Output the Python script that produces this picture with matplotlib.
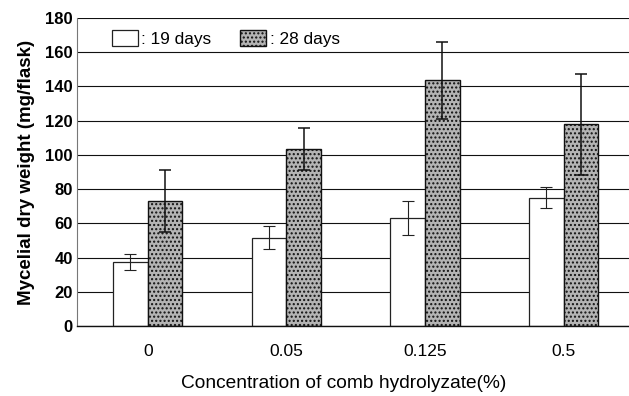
import numpy as np
import matplotlib
matplotlib.use("Agg")
import matplotlib.pyplot as plt

# data
concentrations = ["0", "0.05", "0.125", "0.5"]
days19_mean = [37.5, 51.5, 63.0, 75.0]
days19_err = [4.7, 6.8, 10.0, 6.0]
days28_mean = [73.0, 103.5, 143.5, 118.0]
days28_err = [18.0, 12.3, 22.7, 29.5]
series_labels = [": 19 days", ": 28 days"]

plt.rcParams['font.family'] = ['Liberation Sans', 'DejaVu Sans']
plt.rcParams['hatch.color'] = '#3a3a3a'
plt.rcParams['hatch.linewidth'] = 1.0

fig = plt.figure(figsize=(6.29, 3.96), dpi=100)
ax = fig.add_axes([0.1224, 0.1768, 0.8776, 0.7778])

x = np.arange(len(concentrations))
w = 0.25

b1 = ax.bar(x - w/2, days19_mean, w, color='white', edgecolor='#222222',
            linewidth=0.9, zorder=2, label=series_labels[0])
b2 = ax.bar(x + w/2, days28_mean, w, color='#b4b4b4', edgecolor='#111111',
            linewidth=1.0, hatch='....', zorder=2, label=series_labels[1])

ax.errorbar(x - w/2, days19_mean, yerr=days19_err, fmt='none', ecolor='#222222',
            elinewidth=0.8, capsize=4, capthick=0.8, zorder=3)
ax.errorbar(x + w/2, days28_mean, yerr=days28_err, fmt='none', ecolor='#111111',
            elinewidth=1.1, capsize=4, capthick=1.1, zorder=3)

ax.set_ylim(0, 180)
ax.set_xlim(-0.51, 3.47)
ax.set_yticks(np.arange(0, 181, 20))
ax.set_xticks(x)
ax.set_xticklabels(concentrations)
ax.tick_params(axis='y', labelsize=12, length=0, pad=3)
ax.tick_params(axis='x', labelsize=12.5, length=0, pad=13)
for lab in ax.get_yticklabels():
    lab.set_fontweight('bold')

ax.yaxis.grid(True, color='#111111', linewidth=0.8, zorder=0)
ax.set_axisbelow(True)
for side in ['top', 'right']:
    ax.spines[side].set_visible(False)
ax.spines['left'].set_color('#777777')
ax.spines['left'].set_linewidth(0.8)
ax.spines['bottom'].set_color('#111111')
ax.spines['bottom'].set_linewidth(1.0)

ax.set_ylabel("Mycelial dry weight (mg/flask)", fontsize=13.5, fontweight='bold',
              labelpad=7)
ax.set_xlabel("Concentration of comb hydrolyzate(%)", fontsize=13.8)
ax.xaxis.set_label_coords(0.483, -0.16)

ax.legend(handles=[b1, b2], loc='upper left', bbox_to_anchor=(0.035, 1.01),
          ncol=2, frameon=False, fontsize=12.4, handlelength=1.5, handleheight=1.0,
          handletextpad=0.2, columnspacing=1.7)

fig.savefig("out.png", dpi=100)
